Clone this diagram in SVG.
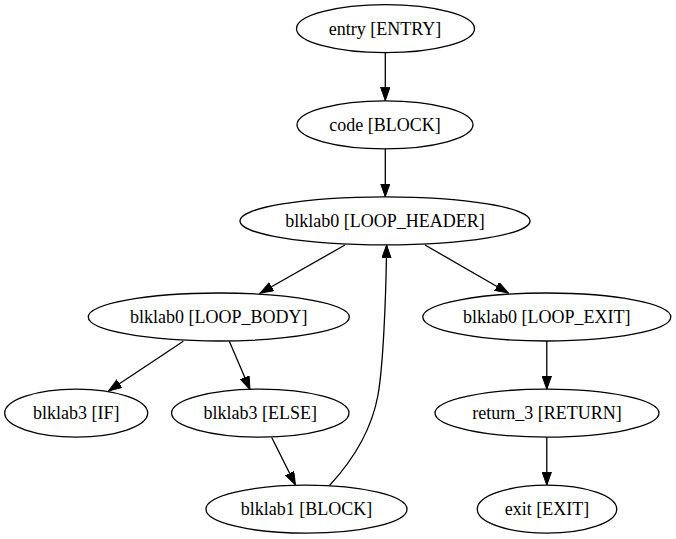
<svg xmlns="http://www.w3.org/2000/svg" width="676" height="539" viewBox="0 0 676 539">
<style>
.n ellipse{fill:none;stroke:#000;stroke-width:1.3}
.n text{font-family:"Liberation Serif","Times New Roman",serif;font-size:18px;text-anchor:middle;fill:#000}
.e path{fill:none;stroke:#000;stroke-width:1.3;marker-end:url(#ah)}
</style>
<defs>
<marker id="ah" markerUnits="userSpaceOnUse" markerWidth="14" markerHeight="10" refX="13.3" refY="4.7" orient="auto">
<path d="M0,0 L13.3,4.7 L0,9.4 z" fill="#000" stroke="#000" stroke-width="1"/>
</marker>
</defs>
<rect width="676" height="539" fill="#fff"/>
<g id="edges" class="e">
<path d="M385.3,52.7 L385.3,100.5"/>
<path d="M385.3,148.8 L385.3,196.8"/>
<path d="M345,245 L260,293.3"/>
<path d="M425,245 L508.3,293"/>
<path d="M183.3,341.3 L108.5,391"/>
<path d="M229.3,341.3 L250,389.5"/>
<path d="M271.7,437.5 L295.5,485"/>
<path d="M546.8,341 L546.8,389.3"/>
<path d="M546.8,437.1 L546.8,485.2"/>
<path d="M329.5,485.5 C355,458 372,428 378,395 C383,367 386,300 386.6,245"/>
</g>
<g id="entry" class="n"><ellipse cx="385.5" cy="28.7" rx="89" ry="24"/><text x="385" y="34.9">entry [ENTRY]</text></g>
<g id="code" class="n"><ellipse cx="385" cy="124.8" rx="88" ry="24"/><text x="385" y="131">code [BLOCK]</text></g>
<g id="loop_header" class="n"><ellipse cx="385" cy="220.9" rx="145" ry="24"/><text x="385" y="227.1">blklab0 [LOOP_HEADER]</text></g>
<g id="loop_body" class="n"><ellipse cx="218.8" cy="317" rx="130.5" ry="24"/><text x="218.8" y="323.2">blklab0 [LOOP_BODY]</text></g>
<g id="loop_exit" class="n"><ellipse cx="546.8" cy="317" rx="124" ry="24"/><text x="546.8" y="323.2">blklab0 [LOOP_EXIT]</text></g>
<g id="if" class="n"><ellipse cx="76.2" cy="413.1" rx="71.5" ry="24"/><text x="76.2" y="419.3">blklab3 [IF]</text></g>
<g id="else" class="n"><ellipse cx="260.3" cy="413.1" rx="88.7" ry="24"/><text x="260.3" y="419.3">blklab3 [ELSE]</text></g>
<g id="return" class="n"><ellipse cx="547" cy="413.1" rx="112" ry="24"/><text x="547" y="419.3">return_3 [RETURN]</text></g>
<g id="blklab1" class="n"><ellipse cx="306.5" cy="509.2" rx="100.5" ry="24"/><text x="306.5" y="515.4">blklab1 [BLOCK]</text></g>
<g id="exit" class="n"><ellipse cx="547" cy="509.2" rx="69.7" ry="24"/><text x="547" y="515.4">exit [EXIT]</text></g>
</svg>
